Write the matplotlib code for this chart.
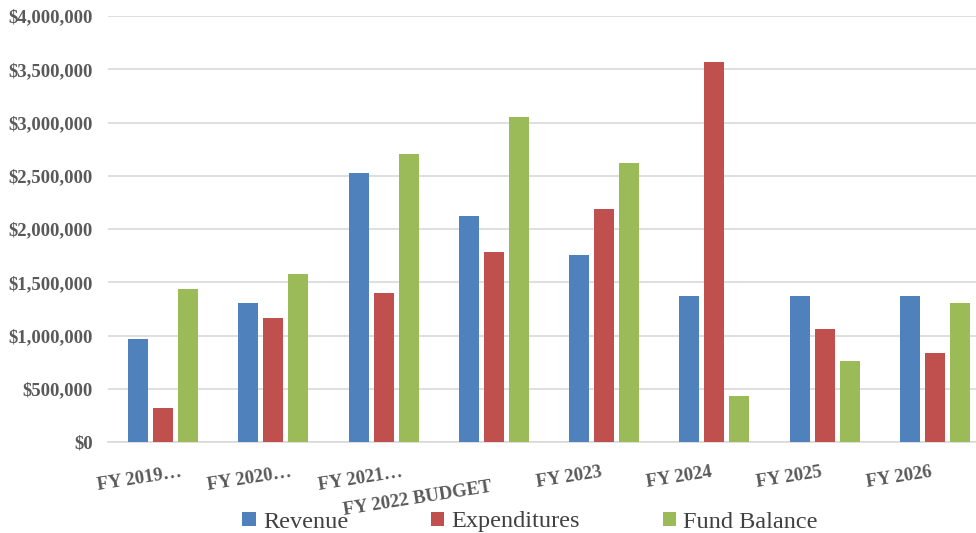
import matplotlib
matplotlib.use("Agg")
import matplotlib.pyplot as plt
import matplotlib.transforms as mtransforms
from matplotlib.ticker import FuncFormatter, MultipleLocator
import numpy as np

categories = ["FY 2019…", "FY 2020…", "FY 2021…", "FY 2022 BUDGET",
              "FY 2023", "FY 2024", "FY 2025", "FY 2026"]
revenue = [967000, 1305000, 2526000, 2122000, 1756000, 1371000, 1371000, 1371000]
expenditures = [320000, 1164000, 1400000, 1784000, 2188000, 3568000, 1061000, 836000]
fund_balance = [1437000, 1577000, 2704000, 3052000, 2620000, 432000, 760000, 1305000]

series = [("Revenue", revenue, "#4F81BD"),
          ("Expenditures", expenditures, "#C0504D"),
          ("Fund Balance", fund_balance, "#9BBB59")]

serif = ["Liberation Serif", "DejaVu Serif"]
label_gray = "#595959"

fig = plt.figure(figsize=(9.76, 5.33), dpi=100)
W, H = 976, 533
ax = fig.add_axes([108 / W, 91 / H, 882 / W, 426 / H])

x = np.arange(len(categories))
width = 0.18
step = 0.227
for i, (name, vals, color) in enumerate(series):
    ax.bar(x + (i - 1) * step, vals, width, color=color, label=name, zorder=3)

ax.set_xlim(-0.5, len(categories) - 0.5)
ax.set_ylim(0, 4000000)
ax.yaxis.set_major_locator(MultipleLocator(500000))
ax.yaxis.set_major_formatter(FuncFormatter(lambda v, p: f"${v:,.0f}"))
ax.grid(axis="y", color="#d9d9d9", linewidth=1.2, zorder=0)
ax.set_axisbelow(True)
for s in ["top", "right", "left"]:
    ax.spines[s].set_visible(False)
ax.spines["bottom"].set_color("#d9d9d9")
ax.spines["bottom"].set_linewidth(1.2)
ax.tick_params(axis="both", length=0)
ax.tick_params(axis="y", pad=11)

for lab in ax.get_yticklabels():
    lab.set_fontfamily(serif)
    lab.set_fontweight("bold")
    lab.set_fontsize(13.5)
    lab.set_color(label_gray)

ax.set_xticks(x)
ax.set_xticklabels(categories, rotation=9, ha="right", rotation_mode="anchor",
                   fontfamily=serif, fontweight="bold", fontsize=13.5, color=label_gray)
ax.tick_params(axis="x", pad=16)

# truncated names sit a little right of their tick; the long one drops a row
for lab in ax.get_xticklabels():
    txt = lab.get_text()
    dx, dy = -4, 0
    if txt.endswith("…"):
        dx = 17
    if "BUDGET" in txt:
        dy = -14
    off = mtransforms.ScaledTranslation(dx / 100, dy / 100, fig.dpi_scale_trans)
    lab.set_transform(lab.get_transform() + off)

fig.legend(loc="center", bbox_to_anchor=(530 / W, 11 / H), ncol=3, frameon=False,
           prop={"family": serif, "size": 17.5}, handlelength=0.55, handleheight=0.55,
           handletextpad=0.3, columnspacing=3.4, labelcolor="#404040",
           borderpad=0.1)

fig.savefig("out.png", dpi=100)
